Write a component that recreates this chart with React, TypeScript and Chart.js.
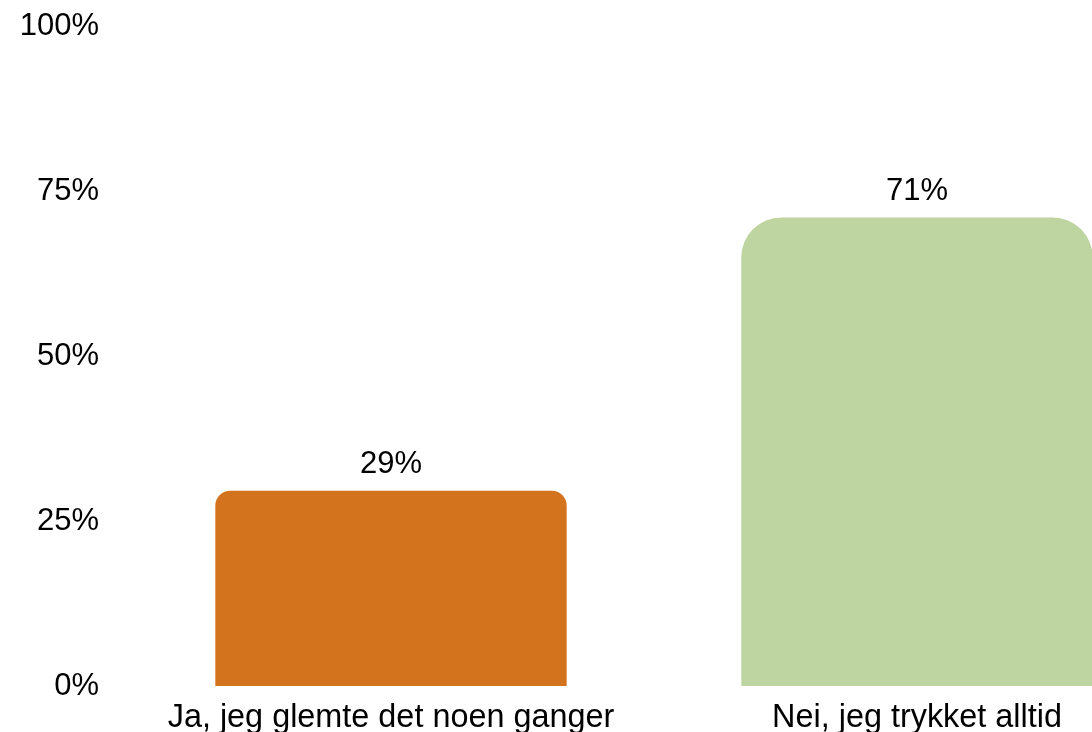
import React, { useEffect, useRef } from "react";
import { Chart, registerables } from "chart.js";

Chart.register(...registerables);

const categories = ["Ja, jeg glemte det noen ganger", "Nei, jeg trykket alltid"];
const values = [29.6, 71];
const valueLabels = ["29%", "71%"];
const barColors = ["#D4731E", "#BED5A1"];
const cornerRadii = [15, 40];
const yTicks = [0, 25, 50, 75, 100];

const FONT = "'Liberation Sans', Arial, sans-serif";

const dataLabelPlugin = {
  id: "dataLabels",
  afterDatasetsDraw(chart: any) {
    const ctx = chart.ctx;
    const meta = chart.getDatasetMeta(0);
    ctx.save();
    ctx.font = `31px ${FONT}`;
    ctx.fillStyle = "#000";
    ctx.textAlign = "center";
    ctx.textBaseline = "middle";
    meta.data.forEach((bar: any, i: number) => {
      ctx.fillText(valueLabels[i], bar.x, bar.y - 26);
    });
    ctx.restore();
  },
};

export default function App() {
  const ref = useRef<HTMLCanvasElement>(null);
  useEffect(() => {
    if (!ref.current) return;
    const chart = new Chart(ref.current, {
      type: "bar",
      data: {
        labels: categories,
        datasets: [
          {
            data: values,
            backgroundColor: barColors,
            borderRadius: cornerRadii,
            borderSkipped: "start",
            categoryPercentage: 1,
            barPercentage: 0.668,
          } as any,
        ],
      },
      options: {
        responsive: false,
        animation: false,
        layout: { padding: { top: 26, left: 0, right: 0, bottom: 0 } },
        plugins: { legend: { display: false }, tooltip: { enabled: false } },
        scales: {
          x: {
            grid: { display: false, drawTicks: false },
            border: { display: false },
            ticks: {
              color: "#000",
              font: { family: FONT, size: 32.4 },
              padding: 13,
              maxRotation: 0,
              autoSkip: false,
            },
            afterFit: (s: any) => {
              s.height = 46;
            },
          },
          y: {
            min: 0,
            max: 100,
            afterBuildTicks: (s: any) => {
              s.ticks = yTicks.map((v) => ({ value: v }));
            },
            grid: { display: false, drawTicks: true, tickLength: 29 },
            border: { display: false },
            ticks: {
              color: "#000",
              font: { family: FONT, size: 31 },
              padding: 0,
              callback: (v: any) => `${v}%`,
            },
            afterFit: (s: any) => {
              s.width = 128;
            },
          },
        },
      },
      plugins: [dataLabelPlugin],
    });
    return () => chart.destroy();
  }, []);
  return (
    <div
      style={{
        position: "fixed",
        left: 0,
        top: 0,
        width: 1092,
        height: 732,
        overflow: "hidden",
        background: "#fff",
      }}
    >
      <canvas ref={ref} width={1180} height={732} style={{ display: "block" }} />
    </div>
  );
}
